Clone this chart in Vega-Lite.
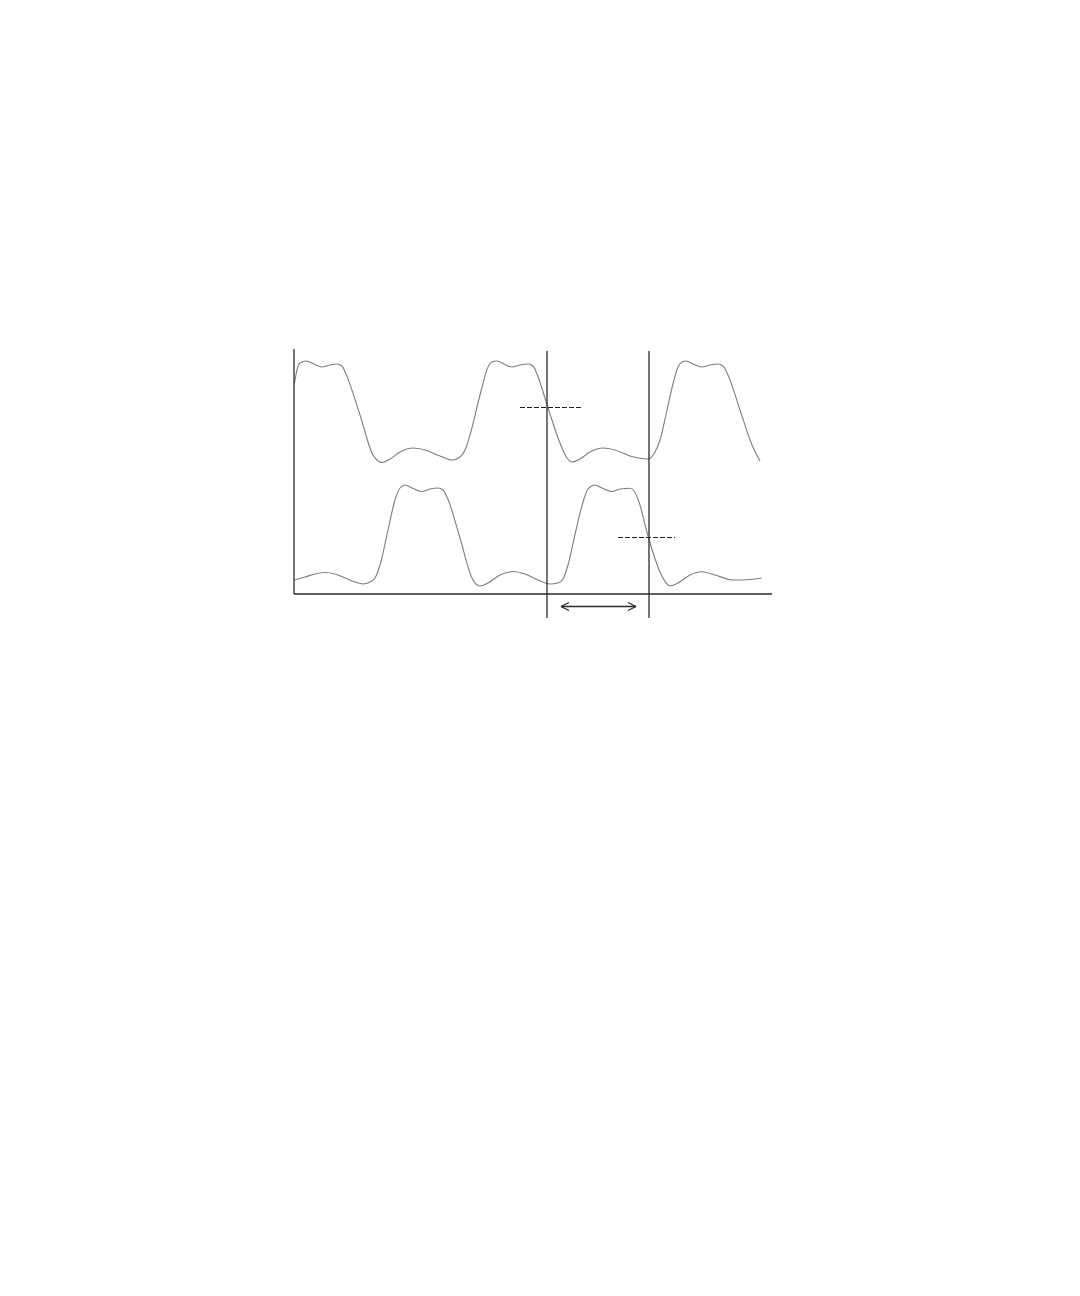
{
  "$schema": "https://vega.github.io/schema/vega-lite/v6.json",
  "autosize": {"type": "none"},
  "padding": {"left": 294, "top": 349, "right": 0, "bottom": 0},
  "width": 478,
  "height": 269,
  "background": "white",
  "config": {"view": {"stroke": null}},
  "datasets": {
    "waves": [
      {"s": "upper", "t": 0.05, "v": 21.1}, {"s": "upper", "t": 0.3, "v": 22.4}, {"s": "upper", "t": 0.6, "v": 23.1},
      {"s": "upper", "t": 1.2, "v": 23.3}, {"s": "upper", "t": 2.0, "v": 23.0}, {"s": "upper", "t": 2.77, "v": 22.7},
      {"s": "upper", "t": 3.6, "v": 22.9}, {"s": "upper", "t": 4.3, "v": 23.0}, {"s": "upper", "t": 4.8, "v": 22.8},
      {"s": "upper", "t": 5.2, "v": 22.0}, {"s": "upper", "t": 6.6, "v": 17.9}, {"s": "upper", "t": 7.9, "v": 13.9},
      {"s": "upper", "t": 8.4, "v": 13.3}, {"s": "upper", "t": 8.8, "v": 13.15}, {"s": "upper", "t": 9.6, "v": 13.5},
      {"s": "upper", "t": 10.6, "v": 14.2}, {"s": "upper", "t": 11.9, "v": 14.6}, {"s": "upper", "t": 13.1, "v": 14.4},
      {"s": "upper", "t": 14.6, "v": 13.8}, {"s": "upper", "t": 15.8, "v": 13.4}, {"s": "upper", "t": 16.6, "v": 13.7},
      {"s": "upper", "t": 17.1, "v": 14.4}, {"s": "upper", "t": 17.6, "v": 15.9}, {"s": "upper", "t": 18.6, "v": 19.9},
      {"s": "upper", "t": 19.4, "v": 22.7}, {"s": "upper", "t": 19.8, "v": 23.2}, {"s": "upper", "t": 20.3, "v": 23.3},
      {"s": "upper", "t": 21.0, "v": 23.0}, {"s": "upper", "t": 21.8, "v": 22.7}, {"s": "upper", "t": 22.6, "v": 22.9},
      {"s": "upper", "t": 23.4, "v": 23.0}, {"s": "upper", "t": 23.9, "v": 22.8}, {"s": "upper", "t": 24.3, "v": 22.0},
      {"s": "upper", "t": 25.37, "v": 18.7}, {"s": "upper", "t": 26.6, "v": 15.1}, {"s": "upper", "t": 27.3, "v": 13.6},
      {"s": "upper", "t": 27.8, "v": 13.2}, {"s": "upper", "t": 28.6, "v": 13.5}, {"s": "upper", "t": 29.6, "v": 14.2},
      {"s": "upper", "t": 30.9, "v": 14.6}, {"s": "upper", "t": 32.1, "v": 14.4}, {"s": "upper", "t": 33.6, "v": 13.8},
      {"s": "upper", "t": 35.4, "v": 13.5}, {"s": "upper", "t": 36.1, "v": 14.2}, {"s": "upper", "t": 36.6, "v": 15.4},
      {"s": "upper", "t": 37.3, "v": 18.4}, {"s": "upper", "t": 38.0, "v": 21.4}, {"s": "upper", "t": 38.4, "v": 22.7},
      {"s": "upper", "t": 38.8, "v": 23.2}, {"s": "upper", "t": 39.2, "v": 23.3}, {"s": "upper", "t": 39.9, "v": 23.0},
      {"s": "upper", "t": 40.77, "v": 22.7}, {"s": "upper", "t": 41.6, "v": 22.9}, {"s": "upper", "t": 42.4, "v": 23.0},
      {"s": "upper", "t": 42.9, "v": 22.8}, {"s": "upper", "t": 43.4, "v": 21.9}, {"s": "upper", "t": 44.6, "v": 18.4},
      {"s": "upper", "t": 45.8, "v": 14.9}, {"s": "upper", "t": 46.6, "v": 13.3},
      {"s": "lower", "t": 0.05, "v": 1.4}, {"s": "lower", "t": 1.1, "v": 1.7}, {"s": "lower", "t": 2.1, "v": 2.0},
      {"s": "lower", "t": 3.1, "v": 2.15}, {"s": "lower", "t": 4.1, "v": 2.0}, {"s": "lower", "t": 5.1, "v": 1.6},
      {"s": "lower", "t": 6.1, "v": 1.2}, {"s": "lower", "t": 6.9, "v": 1.0}, {"s": "lower", "t": 7.6, "v": 1.2},
      {"s": "lower", "t": 8.1, "v": 1.6}, {"s": "lower", "t": 8.6, "v": 2.9}, {"s": "lower", "t": 9.4, "v": 6.4},
      {"s": "lower", "t": 10.1, "v": 9.4}, {"s": "lower", "t": 10.6, "v": 10.6}, {"s": "lower", "t": 11.1, "v": 10.9},
      {"s": "lower", "t": 11.8, "v": 10.6}, {"s": "lower", "t": 12.77, "v": 10.25}, {"s": "lower", "t": 13.6, "v": 10.5},
      {"s": "lower", "t": 14.4, "v": 10.6}, {"s": "lower", "t": 14.9, "v": 10.4}, {"s": "lower", "t": 15.3, "v": 9.7},
      {"s": "lower", "t": 16.6, "v": 5.6}, {"s": "lower", "t": 17.8, "v": 1.6}, {"s": "lower", "t": 18.3, "v": 0.9},
      {"s": "lower", "t": 18.6, "v": 0.8}, {"s": "lower", "t": 19.4, "v": 1.1}, {"s": "lower", "t": 20.6, "v": 1.9},
      {"s": "lower", "t": 21.9, "v": 2.25}, {"s": "lower", "t": 23.1, "v": 2.0}, {"s": "lower", "t": 24.4, "v": 1.4},
      {"s": "lower", "t": 25.6, "v": 1.0}, {"s": "lower", "t": 26.4, "v": 1.1}, {"s": "lower", "t": 26.9, "v": 1.5},
      {"s": "lower", "t": 27.4, "v": 2.9}, {"s": "lower", "t": 28.2, "v": 6.4}, {"s": "lower", "t": 28.9, "v": 9.2},
      {"s": "lower", "t": 29.4, "v": 10.5}, {"s": "lower", "t": 30.1, "v": 10.9}, {"s": "lower", "t": 30.8, "v": 10.6},
      {"s": "lower", "t": 31.77, "v": 10.25}, {"s": "lower", "t": 32.6, "v": 10.5}, {"s": "lower", "t": 33.6, "v": 10.57},
      {"s": "lower", "t": 34.0, "v": 10.3}, {"s": "lower", "t": 34.4, "v": 9.5}, {"s": "lower", "t": 35.43, "v": 5.7},
      {"s": "lower", "t": 36.6, "v": 2.2}, {"s": "lower", "t": 37.3, "v": 1.0}, {"s": "lower", "t": 37.6, "v": 0.8},
      {"s": "lower", "t": 38.4, "v": 1.1}, {"s": "lower", "t": 39.6, "v": 1.9}, {"s": "lower", "t": 40.77, "v": 2.23},
      {"s": "lower", "t": 42.1, "v": 1.9}, {"s": "lower", "t": 43.9, "v": 1.4}, {"s": "lower", "t": 45.6, "v": 1.45},
      {"s": "lower", "t": 46.77, "v": 1.6}
    ],
    "solid": [
      {"name": "y axis", "t": 0, "t2": 0, "v": 0, "v2": 24.5},
      {"name": "x axis", "t": 0, "t2": 47.8, "v": 0, "v2": 0},
      {"name": "marker 1", "t": 25.3, "t2": 25.3, "v": -2.4, "v2": 24.3},
      {"name": "marker 2", "t": 35.5, "t2": 35.5, "v": -2.4, "v2": 24.3},
      {"name": "delay", "t": 26.7, "t2": 34.2, "v": -1.25, "v2": -1.25},
      {"name": "head left a", "t": 26.7, "t2": 27.5, "v": -1.25, "v2": -0.85},
      {"name": "head left b", "t": 26.7, "t2": 27.5, "v": -1.25, "v2": -1.65},
      {"name": "head right a", "t": 34.2, "t2": 33.4, "v": -1.25, "v2": -0.85},
      {"name": "head right b", "t": 34.2, "t2": 33.4, "v": -1.25, "v2": -1.65}
    ],
    "dashed": [
      {"name": "upper half level", "t": 22.6, "t2": 28.8, "v": 18.65, "v2": 18.65},
      {"name": "lower half level", "t": 32.4, "t2": 38.1, "v": 5.65, "v2": 5.65}
    ]
  },
  "layer": [
    {
      "data": {"name": "waves"},
      "mark": {"type": "line", "interpolate": "monotone", "stroke": "#7d7d7d", "strokeWidth": 1.1},
      "encoding": {
        "x": {"field": "t", "type": "quantitative", "scale": {"domain": [0, 47.8], "nice": false, "zero": false}, "axis": null},
        "y": {"field": "v", "type": "quantitative", "scale": {"domain": [-2.4, 24.5], "nice": false, "zero": false}, "axis": null},
        "detail": {"field": "s"}
      }
    },
    {
      "data": {"name": "solid"},
      "mark": {"type": "rule", "stroke": "#2a2a2a", "strokeWidth": 1.3},
      "encoding": {
        "x": {"field": "t", "type": "quantitative"},
        "x2": {"field": "t2"},
        "y": {"field": "v", "type": "quantitative"},
        "y2": {"field": "v2"}
      }
    },
    {
      "data": {"name": "dashed"},
      "mark": {"type": "rule", "stroke": "#1e1e1e", "strokeWidth": 1.1, "strokeDash": [5, 2]},
      "encoding": {
        "x": {"field": "t", "type": "quantitative"},
        "x2": {"field": "t2"},
        "y": {"field": "v", "type": "quantitative"},
        "y2": {"field": "v2"}
      }
    }
  ]
}
